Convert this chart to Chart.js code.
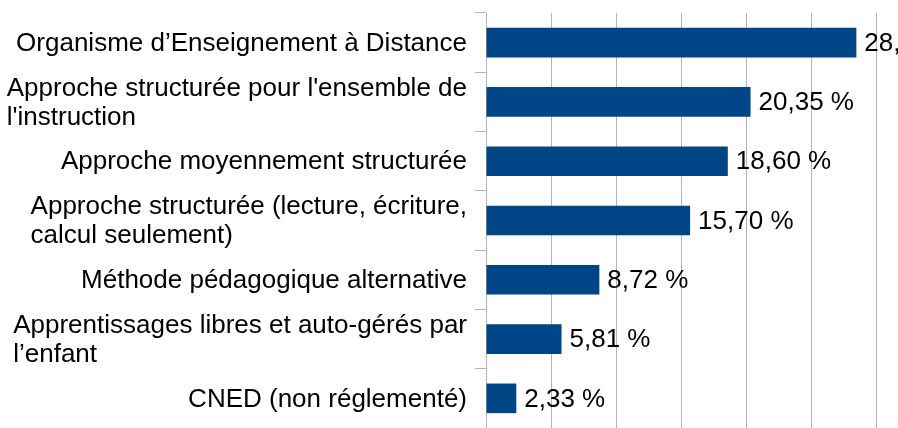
<!DOCTYPE html>
<html lang="fr">
<head>
  <meta charset="UTF-8">
  <title>Approches pédagogiques</title>
  <style>
    html, body {
      margin: 0;
      padding: 0;
      background: #ffffff;
    }
    #chartContainer {
      width: 898px;
      height: 428px;
    }
  </style>
</head>
<body>
  <div id="chartContainer">
    <canvas id="resultsChart"></canvas>
  </div>

  <script src="https://cdn.jsdelivr.net/npm/chart.js"></script>
  <script>
    const categories = [
      'Organisme d’Enseignement à Distance',
      ['Approche structurée pour l\'ensemble de', 'l\'instruction'],
      'Approche moyennement structurée',
      ['Approche structurée (lecture, écriture,', 'calcul seulement)'],
      'Méthode pédagogique alternative',
      ['Apprentissages libres et auto-gérés par', 'l’enfant'],
      'CNED (non réglementé)'
    ];
    const values = [28.49, 20.35, 18.60, 15.70, 8.72, 5.81, 2.33];
    const xTicks = [0, 5, 10, 15, 20, 25, 30];

    const fontFamily = '"Liberation Sans", Arial, sans-serif';
    const fontSize = 26;
    const lineGap = 29;

    function formatPercent(v) {
      return v.toFixed(2).replace('.', ',') + ' %';
    }

    // value right of each bar
    const valueLabels = {
      id: 'valueLabels',
      afterDatasetsDraw(chart) {
        const ctx = chart.ctx;
        const meta = chart.getDatasetMeta(0);
        ctx.save();
        ctx.font = fontSize + 'px ' + fontFamily;
        ctx.fillStyle = '#000000';
        ctx.textAlign = 'left';
        ctx.textBaseline = 'middle';
        meta.data.forEach((bar, i) => {
          ctx.fillText(formatPercent(values[i]), bar.x + 8, bar.y + 1);
        });
        ctx.restore();
      }
    };

    // category labels: block right-aligned to the axis, lines left-aligned inside it
    const categoryLabels = {
      id: 'categoryLabels',
      afterDraw(chart) {
        const ctx = chart.ctx;
        const yScale = chart.scales.y;
        const right = yScale.right - 11 - 8;
        ctx.save();
        ctx.font = fontSize + 'px ' + fontFamily;
        ctx.fillStyle = '#000000';
        ctx.textAlign = 'left';
        ctx.textBaseline = 'middle';
        categories.forEach((label, i) => {
          const lines = Array.isArray(label) ? label : [label];
          const w = Math.max(...lines.map(l => ctx.measureText(l).width));
          const cy = yScale.getPixelForValue(i);
          const y0 = cy - (lines.length - 1) * lineGap / 2;
          lines.forEach((l, k) => {
            ctx.fillText(l, right - w, y0 + k * lineGap + 1);
          });
        });
        ctx.restore();
      }
    };

    const ctx = document.getElementById('resultsChart').getContext('2d');
    new Chart(ctx, {
      type: 'bar',
      data: {
        labels: categories,
        datasets: [{
          data: values,
          backgroundColor: '#004586',
          borderWidth: 0,
          barPercentage: 0.5,
          categoryPercentage: 1.0
        }]
      },
      options: {
        indexAxis: 'y',
        responsive: true,
        maintainAspectRatio: false,
        animation: false,
        layout: {
          padding: { top: 13, right: 22, bottom: 0, left: 0 }
        },
        plugins: {
          legend: { display: false },
          tooltip: { enabled: false }
        },
        scales: {
          x: {
            min: 0,
            max: 30,
            afterBuildTicks: (scale) => {
              scale.ticks = xTicks.map(v => ({ value: v }));
            },
            afterFit: (scale) => {
              scale.height = 0;
            },
            ticks: { display: false },
            grid: {
              color: '#b3b3b3',
              lineWidth: 1,
              drawTicks: false
            },
            border: { display: false }
          },
          y: {
            afterFit: (scale) => {
              scale.width = 486;
              scale.paddingTop = 0;
              scale.paddingBottom = 0;
            },
            ticks: {
              color: 'rgba(0,0,0,0)',
              padding: 8,
              autoSkip: false,
              font: { family: fontFamily, size: fontSize, lineHeight: 1.12 }
            },
            grid: {
              offset: true,
              drawOnChartArea: false,
              drawTicks: true,
              tickLength: 11,
              color: '#b3b3b3'
            },
            border: { display: true, color: '#b3b3b3' }
          }
        }
      },
      plugins: [valueLabels, categoryLabels]
    });
  </script>
</body>
</html>
